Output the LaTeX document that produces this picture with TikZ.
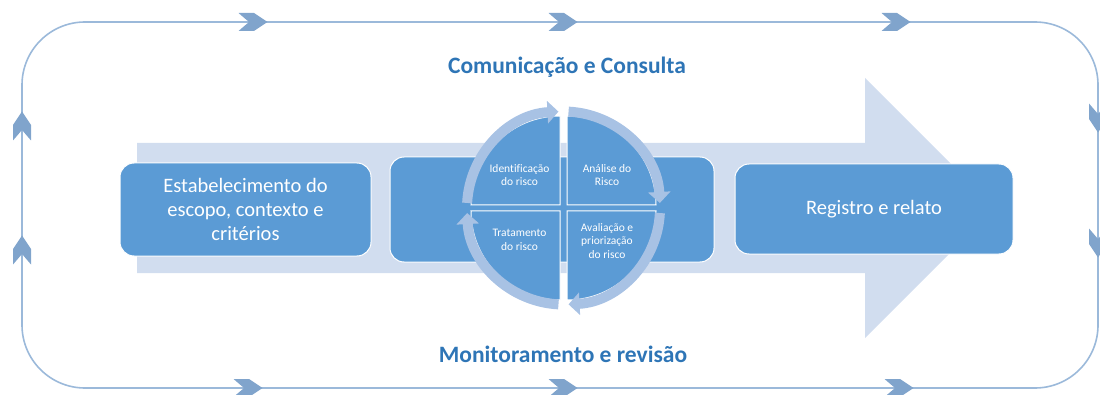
\documentclass[tikz,border=0pt]{standalone}
\usepackage{fontspec}
\setmainfont{Carlito}[Ligatures=NoCommon]
\usetikzlibrary{arrows.meta}

\definecolor{riskblue}{RGB}{91,155,213}
\definecolor{riskpale}{RGB}{209,221,239}
\definecolor{ringblue}{RGB}{168,194,228}
\definecolor{frameblue}{RGB}{155,185,218}
\definecolor{chevblue}{RGB}{128,164,204}
\definecolor{titleblue}{RGB}{46,117,182}

\tikzset{
  stepbox/.style={draw=white, line width=1pt, fill=riskblue, rounded corners=14pt,
    text=white, align=center, font=\fontsize{20.5}{24}\selectfont},
  quadpart/.style={draw=white, line width=1pt, fill=riskblue},
  quadtext/.style={text=white, align=center, font=\fontsize{11.5}{13.5}\selectfont},
  ringarc/.style={draw=ringblue, line width=10pt, -{Triangle[width=22pt,length=11pt]}},
  headline/.style={text=titleblue, font=\fontsize{23.5}{28}\selectfont\bfseries},
  chev/.pic={\fill[chevblue] (-14.5,9) -- (1,9) -- (14.5,0) -- (1,-9) -- (-14.5,-9) -- (-4,0) -- cycle;}
}

\begin{document}
\begin{tikzpicture}[x=1pt, y=1pt]
        \useasboundingbox (0,0) rectangle (1100,394);

        % outer cycle
        \draw[frameblue, line width=1.6pt, rounded corners=63pt] (22,6) rectangle (1098,372);
        \pic at (253,372) {chev};
        \pic at (563,372) {chev};
        \pic at (896,372) {chev};
        \pic at (248,6) {chev};
        \pic at (563,6) {chev};
        \pic at (899,6) {chev};
        \pic[rotate=90] at (22,268) {chev};
        \pic[rotate=90] at (22,144) {chev};
        \pic[rotate=-90] at (1098,276) {chev};
        \pic[rotate=-90] at (1098,151) {chev};

        % big arrow
        \fill[riskpale] (137,121) -- (865,121) -- (865,56) -- (995,186)
            -- (865,316) -- (865,251) -- (137,251) -- cycle;

        % boxes
        \node[stepbox, minimum width=251pt, minimum height=93pt] (scope) at (245.5,184.5)
            {Estabelecimento do\\escopo, contexto e\\critérios};
        \node[stepbox, minimum width=324pt, minimum height=105pt] (core) at (552,184.5) {};
        \node[stepbox, minimum width=278pt, minimum height=90pt] (report) at (874,185)
            {Registro e relato};

        % risk cycle
        \coordinate (ctr) at (563.5,186);
        \filldraw[quadpart] (560,189) -- ++(-89,0) arc (180:90:89) -- cycle;
        \filldraw[quadpart] (567,189) -- ++(89,0) arc (0:90:89) -- cycle;
        \filldraw[quadpart] (567,183) -- ++(89,0) arc (0:-90:89) -- cycle;
        \filldraw[quadpart] (560,183) -- ++(-89,0) arc (180:270:89) -- cycle;
        \draw[ringarc] (ctr) ++(177:96.5) arc (177:93:96.5);
        \draw[ringarc] (ctr) ++(87:96.5) arc (87:3:96.5);
        \draw[ringarc] (ctr) ++(-3:96.5) arc (-3:-87:96.5);
        \draw[ringarc] (ctr) ++(-93:96.5) arc (-93:-177:96.5);

        \node[quadtext] (ident) at (519.5,219) {Identificação\\do risco};
        \node[quadtext] (analise) at (607,219) {Análise do\\Risco};
        \node[quadtext] (trat) at (519.5,154) {Tratamento\\do risco};
        \node[quadtext] (aval) at (607,153) {Avaliação e\\priorização\\do risco};

        % titles
        \node[headline] (comm) at (567,327) {Comunicação e Consulta};
        \node[headline] (monit) at (563,40) {Monitoramento e revisão};
\end{tikzpicture}
\end{document}
